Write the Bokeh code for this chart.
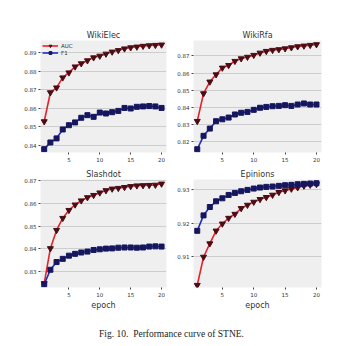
from bokeh.plotting import figure
from bokeh.layouts import column, row
from bokeh.models import FixedTicker, PrintfTickFormatter, Div, Range1d, Legend, LegendItem
from bokeh.embed import file_html
from bokeh.resources import INLINE

epochs = list(range(1, 21))

wikielec_auc = [0.8529, 0.8685, 0.8711, 0.8765, 0.8792, 0.8824, 0.8841, 0.8857, 0.8873, 0.8882,
                0.8893, 0.8904, 0.8912, 0.8921, 0.8927, 0.8931, 0.8935, 0.8938, 0.8940, 0.8942]
wikielec_f1 = [0.8380, 0.8416, 0.8438, 0.8486, 0.8509, 0.8524, 0.8549, 0.8563, 0.8554, 0.8577,
               0.8572, 0.8579, 0.8586, 0.8602, 0.8599, 0.8608, 0.8610, 0.8612, 0.8610, 0.8602]

wikirfa_auc = [0.8320, 0.8481, 0.8549, 0.8591, 0.8630, 0.8645, 0.8669, 0.8684, 0.8693, 0.8704,
               0.8717, 0.8727, 0.8733, 0.8737, 0.8742, 0.8748, 0.8754, 0.8758, 0.8762, 0.8766]
wikirfa_f1 = [0.8157, 0.8235, 0.8277, 0.8320, 0.8331, 0.8341, 0.8359, 0.8369, 0.8374, 0.8386,
              0.8398, 0.8403, 0.8407, 0.8409, 0.8413, 0.8409, 0.8417, 0.8423, 0.8417, 0.8417]

slashdot_auc = [0.8248, 0.8402, 0.8482, 0.8535, 0.8570, 0.8594, 0.8612, 0.8626, 0.8636, 0.8647,
                0.8657, 0.8664, 0.8667, 0.8671, 0.8675, 0.8678, 0.8679, 0.8680, 0.8681, 0.8686]
slashdot_f1 = [0.8244, 0.8308, 0.8342, 0.8356, 0.8370, 0.8378, 0.8384, 0.8388, 0.8395, 0.8398,
               0.8401, 0.8402, 0.8405, 0.8406, 0.8406, 0.8405, 0.8406, 0.8410, 0.8411, 0.8410]

epinions_auc = [0.9016, 0.9100, 0.9140, 0.9178, 0.9199, 0.9216, 0.9228, 0.9245, 0.9255, 0.9264,
                0.9272, 0.9278, 0.9285, 0.9293, 0.9298, 0.9303, 0.9307, 0.9312, 0.9315, 0.9317]
epinions_f1 = [0.9178, 0.9224, 0.9249, 0.9266, 0.9275, 0.9285, 0.9291, 0.9296, 0.9300, 0.9304,
               0.9307, 0.9309, 0.9310, 0.9312, 0.9314, 0.9315, 0.9317, 0.9318, 0.9319, 0.9320]

x_ticks = [5, 10, 15, 20]
titles = ["WikiElec", "WikiRfa", "Slashdot", "Epinions"]
y_ticks = [
    [0.84, 0.85, 0.86, 0.87, 0.88, 0.89],
    [0.82, 0.83, 0.84, 0.85, 0.86, 0.87],
    [0.83, 0.84, 0.85, 0.86, 0.87],
    [0.91, 0.92, 0.93],
]
y_ranges = [(0.8362, 0.8965), (0.8138, 0.8789), (0.8230, 0.8705), (0.9009, 0.9331)]
series = [(wikielec_auc, wikielec_f1), (wikirfa_auc, wikirfa_f1),
          (slashdot_auc, slashdot_f1), (epinions_auc, epinions_f1)]

FONT = "DejaVu Sans"
RED_LINE = "#e3232c"
RED_MARK = "#4a0d16"
BLUE_LINE = "#1c2cc8"
BLUE_MARK = "#15165e"


def make(i, left_border, frame_w, top_border, frame_h, bottom_border, xlabel, legend):
    w = left_border + frame_w + 4
    h = top_border + frame_h + bottom_border
    p = figure(width=w, height=h, output_backend="svg", toolbar_location=None,
               x_range=Range1d(0.4, 20.8), y_range=Range1d(*y_ranges[i]),
               min_border_left=left_border, min_border_right=4,
               min_border_top=top_border, min_border_bottom=bottom_border,
               title=titles[i])
    p.title.text_font = FONT
    p.title.text_font_size = "8px"
    p.title.text_font_style = "normal"
    p.title.text_color = "#333333"
    p.title.align = "center"
    p.title.standoff = 1
    p.title.offset = 0
    p.background_fill_color = "#efefef"
    p.border_fill_color = "white"
    p.outline_line_color = None
    p.xgrid.grid_line_color = None
    p.ygrid.grid_line_color = "#cdcdcd"
    p.ygrid.grid_line_width = 1
    p.ygrid.ticker = FixedTicker(ticks=y_ticks[i])

    for ax in (p.xaxis[0], p.yaxis[0]):
        ax.axis_line_color = None
        ax.major_tick_line_color = "#444444"
        ax.major_tick_in = 0
        ax.major_tick_out = 2
        ax.minor_tick_line_color = None
        ax.major_label_text_font = FONT
        ax.major_label_text_font_size = "5.5px"
        ax.major_label_text_color = "#333333"
        ax.major_label_standoff = 2
    p.xaxis.ticker = FixedTicker(ticks=x_ticks)
    p.yaxis.ticker = FixedTicker(ticks=y_ticks[i])
    p.yaxis.formatter = PrintfTickFormatter(format="%.2f")
    if xlabel:
        p.xaxis.axis_label = "epoch"
        p.xaxis.axis_label_text_font = FONT
        p.xaxis.axis_label_text_font_size = "8px"
        p.xaxis.axis_label_text_font_style = "normal"
        p.xaxis.axis_label_text_color = "#333333"
        p.xaxis.axis_label_standoff = 1

    auc, f1 = series[i]
    l1 = p.line(epochs, auc, line_color=RED_LINE, line_width=1.6)
    s1 = p.scatter(epochs, auc, marker="inverted_triangle", size=6,
                   fill_color=RED_MARK, line_color=RED_MARK)
    l2 = p.line(epochs, f1, line_color=BLUE_LINE, line_width=1.6)
    s2 = p.scatter(epochs, f1, marker="square", size=5,
                   fill_color=BLUE_MARK, line_color=BLUE_MARK)
    if legend:
        leg = Legend(items=[LegendItem(label="AUC", renderers=[l1, s1]),
                            LegendItem(label="F1", renderers=[l2, s2])],
                     location="top_left")
        leg.background_fill_alpha = 0
        leg.border_line_color = None
        leg.label_text_font = FONT
        leg.label_text_font_size = "5.5px"
        leg.label_text_color = "#333333"
        leg.glyph_width = 16
        leg.glyph_height = 7
        leg.label_height = 7
        leg.spacing = 0
        leg.padding = 1
        leg.margin = 2
        leg.label_standoff = 3
        p.add_layout(leg)
    return p


p1 = make(0, 40, 126, 40, 112, 15, False, True)
p2 = make(1, 23, 128, 40, 112, 15, False, False)
p3 = make(2, 40, 126, 12, 113, 20, True, False)
p4 = make(3, 23, 128, 12, 113, 20, True, False)

caption = Div(text="Fig. 10.&nbsp;&nbsp;Performance curve of STNE.", width=333, height=26,
              styles={"font-family": "Liberation Serif", "font-size": "9.5px",
                      "text-align": "center", "color": "#222222", "padding-top": "11px",
                      "width": "333px"})

layout = column(row(p1, p2), row(p3, p4), caption)

open("out.html", "w").write(file_html(layout, INLINE))
